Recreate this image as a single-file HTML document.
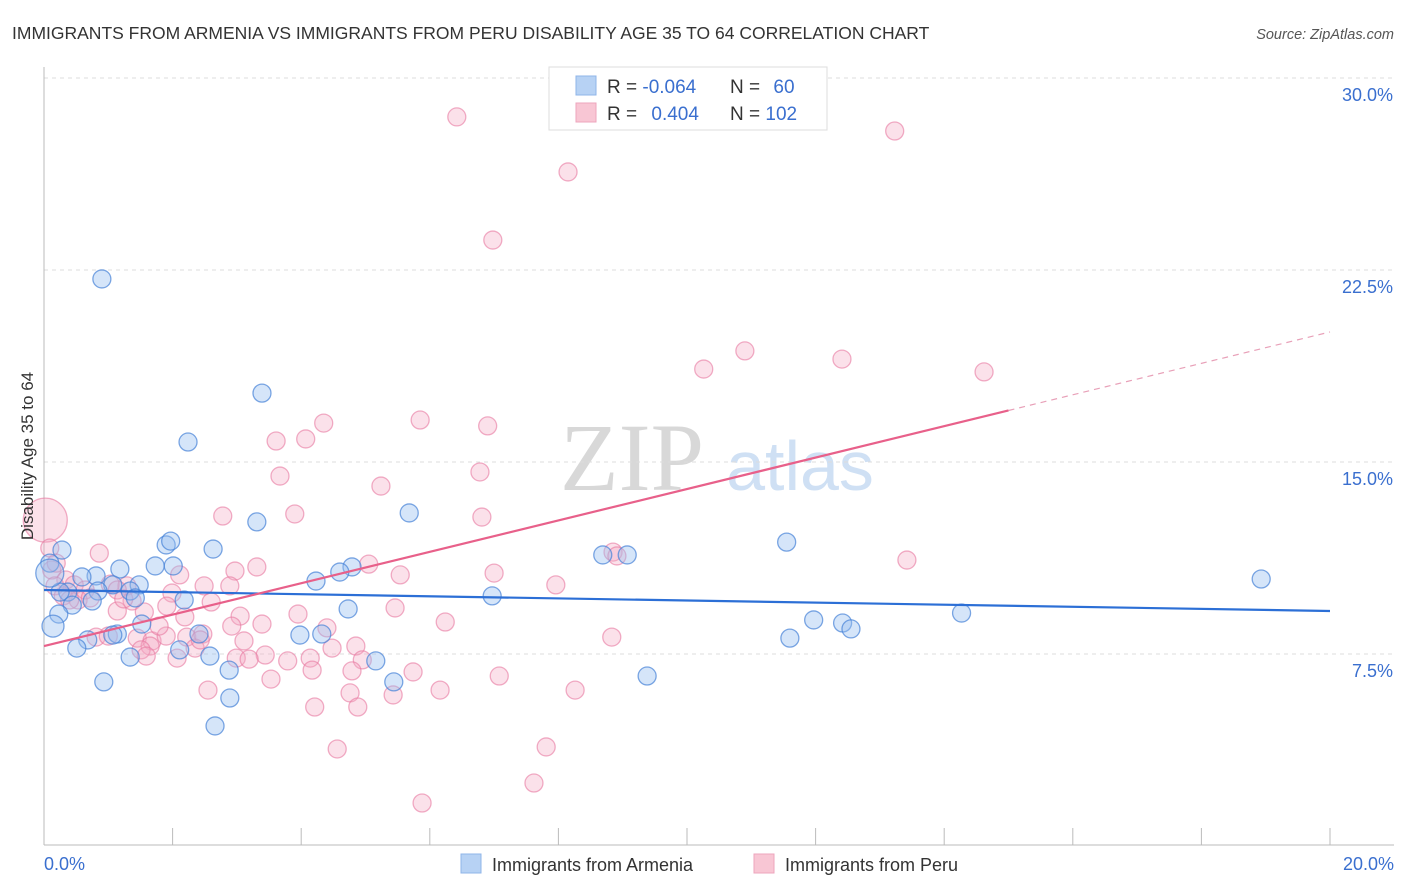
<!DOCTYPE html>
<html><head><meta charset="utf-8"><style>
body{margin:0;background:#fff;font-family:"Liberation Sans",sans-serif;}
svg{display:block}
</style></head><body>
<svg id="chart" width="1406" height="892" viewBox="0 0 1406 892" xmlns="http://www.w3.org/2000/svg" font-family="Liberation Sans, sans-serif">
<text x="12" y="39" font-size="17.5" fill="#333">IMMIGRANTS FROM ARMENIA VS IMMIGRANTS FROM PERU DISABILITY AGE 35 TO 64 CORRELATION CHART</text>
<text x="1394" y="39" font-size="14.5" fill="#555" font-style="italic" text-anchor="end">Source: ZipAtlas.com</text>
<g>
<text x="632" y="490" font-size="96" font-family="Liberation Serif, serif" fill="#d8d8d8" text-anchor="middle">ZIP</text>
<text x="800" y="490" font-size="70" fill="#cfe0f4" text-anchor="middle">atlas</text>
</g>
<g id="grid"></g>
<g id="axes"></g>
<g id="points"></g>
<g id="trends"></g>
<text transform="translate(33,456) rotate(-90)" font-size="17" fill="#333" text-anchor="middle">Disability Age 35 to 64</text>
<g>
<rect x="549" y="67" width="278" height="63" fill="#fff" stroke="#ddd"/>
<rect x="576" y="76" width="20" height="19" fill="#b7d2f4" stroke="#8fb5e8"/>
<rect x="576" y="103" width="20" height="19" fill="#f8c6d4" stroke="#eea5bd"/>
<text x="607" y="93" font-size="19" fill="#333">R = <tspan fill="#3a6fcf">-0.064</tspan></text>
<text x="730" y="93" font-size="19" fill="#333">N = <tspan fill="#3a6fcf" dx="8">60</tspan></text>
<text x="607" y="120" font-size="19" fill="#333">R = <tspan fill="#3a6fcf" dx="9">0.404</tspan></text>
<text x="730" y="120" font-size="19" fill="#333">N = <tspan fill="#3a6fcf">102</tspan></text>
</g>
<g>
<rect x="461" y="854" width="20" height="19" fill="#b7d2f4" stroke="#8fb5e8"/>
<text x="492" y="871" font-size="18" fill="#333">Immigrants from Armenia</text>
<rect x="754" y="854" width="20" height="19" fill="#f8c6d4" stroke="#eea5bd"/>
<text x="785" y="871" font-size="18" fill="#333">Immigrants from Peru</text>
</g>
</svg>
<script>
const yTicks=[7.5,15,22.5,30];
const yTickLabels=["7.5%","15.0%","22.5%","30.0%"];
const xTickLabels=["0.0%","20.0%"];
const armeniaX=[0.90,3.39,2.24,5.68,3.31,1.90,1.97,2.63,0.28,8.69,9.07,11.55,18.93,0.09,1.18,1.73,2.01,0.81,0.59,1.07,1.48,4.79,4.60,4.23,0.37,0.25,0.84,1.34,1.42,0.44,0.75,2.18,6.97,4.73,0.23,0.14,1.52,2.41,1.14,1.07,3.98,4.32,11.97,12.42,12.55,14.27,11.60,0.68,0.51,2.11,2.58,1.34,5.16,2.88,9.38,5.44,0.93,2.89,2.66,0.09];
const armeniaY=[22.15,17.69,15.78,13.01,12.66,11.76,11.91,11.60,11.56,11.37,11.37,11.87,10.43,11.05,10.82,10.94,10.94,10.55,10.51,10.20,10.20,10.90,10.70,10.35,9.92,9.92,9.96,9.96,9.69,9.41,9.57,9.61,9.77,9.26,9.06,8.59,8.67,8.28,8.28,8.24,8.24,8.28,8.83,8.71,8.48,9.10,8.12,8.05,7.73,7.66,7.42,7.38,7.23,6.87,6.64,6.41,6.41,5.78,4.69,10.66];
const peruX=[6.42,13.23,8.15,6.98,10.90,12.41,10.26,14.62,5.85,4.35,6.90,3.61,4.07,3.67,6.78,5.24,2.78,3.90,6.81,8.85,8.91,13.42,5.05,3.31,2.97,5.54,7.00,7.96,0.86,0.02,0.09,0.12,0.34,0.47,0.17,0.30,0.64,0.53,1.03,1.29,1.14,2.11,2.49,2.89,1.99,1.37,1.91,2.60,5.46,3.95,2.19,1.14,3.05,2.92,3.39,4.40,6.24,8.83,0.81,1.00,1.45,1.68,1.90,2.22,2.47,1.65,1.51,1.59,2.07,2.35,3.11,3.44,2.99,3.19,3.79,4.14,4.48,4.85,4.95,4.79,5.74,7.08,4.17,2.55,3.53,8.26,6.16,4.76,5.43,4.21,4.88,7.81,4.56,7.62,5.88,0.19,0.40,0.72,1.79,1.24,1.56,2.43];
const peruY=[28.48,27.93,26.33,23.67,19.34,19.02,18.63,18.52,16.64,16.52,16.41,15.82,15.90,14.45,14.61,14.06,12.89,12.97,12.85,11.48,11.33,11.17,11.01,10.90,10.74,10.59,10.66,10.20,11.44,12.73,11.64,10.78,10.39,10.20,10.16,9.77,10.00,9.61,10.23,10.16,10.00,10.59,10.16,10.16,9.88,9.57,9.37,9.53,9.30,9.06,8.95,9.18,8.98,8.59,8.67,8.52,8.75,8.16,8.16,8.20,8.12,8.01,8.20,8.16,8.28,7.81,7.66,7.42,7.34,7.73,8.01,7.46,7.34,7.30,7.23,7.34,7.73,7.81,7.27,6.84,6.80,6.64,6.87,6.09,6.52,6.09,6.09,5.98,5.90,5.43,5.43,3.87,3.79,2.46,1.68,11.05,9.61,9.69,8.59,9.65,9.14,8.05];
const armeniaTrend=[10.0,9.18];
const peruTrend=[7.81,20.08];
const NS="http://www.w3.org/2000/svg";
function xs(v){return 44+v*64.3;}
function ys(v){return 846-v*25.6;}
function mk(tag,parent,attrs){const e=document.createElementNS(NS,tag);for(const k in attrs)e.setAttribute(k,attrs[k]);parent.appendChild(e);return e;}
const grid=document.getElementById('grid'),axes=document.getElementById('axes'),pts=document.getElementById('points'),tr=document.getElementById('trends');
yTicks.forEach((t,i)=>{
  const l=mk('line',grid,{x1:44,x2:1394,y1:ys(t),y2:ys(t),stroke:'#ddd','stroke-dasharray':'4,4'});
  
  
  const tx=mk('text',axes,{x:1393,y:ys(t)+23,'font-size':18,fill:'#3a6fcf','text-anchor':'end'});
  tx.textContent=yTickLabels[i];
  
  
});
const xl=mk('line',axes,{x1:44,x2:1394,y1:845,y2:845,stroke:'#bbb'});


const yl=mk('line',axes,{x1:44,x2:44,y1:67,y2:845,stroke:'#bbb'});


for(let i=1;i<=10;i++){
  const t=mk('line',axes,{x1:xs(i*2),x2:xs(i*2),y1:828,y2:845,stroke:'#bbb'});
  
  
}
const x0=mk('text',axes,{x:44,y:870,'font-size':18,fill:'#3a6fcf'});x0.textContent=xTickLabels[0];


const x1=mk('text',axes,{x:1394,y:870,'font-size':18,fill:'#3a6fcf','text-anchor':'end'});x1.textContent=xTickLabels[1];


function rad(x,y,series,i){
  if(series==='peru'&&i===29)return 22;
  if(series==='armenia'&&i===59)return 14;
  if(series==='armenia'&&i===35)return 11;
  return 9;
}
peruX.forEach((x,i)=>{
  const c=mk('circle',pts,{cx:xs(x),cy:ys(peruY[i]),r:rad(x,peruY[i],'peru',i),fill:'rgba(244,170,195,0.35)',stroke:'rgba(232,120,160,0.6)','stroke-width':1.3});
  
  
});
armeniaX.forEach((x,i)=>{
  const c=mk('circle',pts,{cx:xs(x),cy:ys(armeniaY[i]),r:rad(x,armeniaY[i],'armenia',i),fill:'rgba(150,190,240,0.4)',stroke:'rgba(70,130,215,0.7)','stroke-width':1.3});
  
  
});
const bt=mk('line',tr,{x1:xs(0),y1:ys(armeniaTrend[0]),x2:xs(20),y2:ys(armeniaTrend[1]),stroke:'#2c6fd6','stroke-width':2.2});


const pAt=x=>peruTrend[0]+(peruTrend[1]-peruTrend[0])*x/20;
const ps=mk('line',tr,{x1:xs(0),y1:ys(pAt(0)),x2:xs(15),y2:ys(pAt(15)),stroke:'#e8608a','stroke-width':2.2});


const pd=mk('line',tr,{x1:xs(15),y1:ys(pAt(15)),x2:xs(20),y2:ys(pAt(20)),stroke:'#e8a0b8','stroke-width':1.2,'stroke-dasharray':'6,5'});


</script>
</body></html>
